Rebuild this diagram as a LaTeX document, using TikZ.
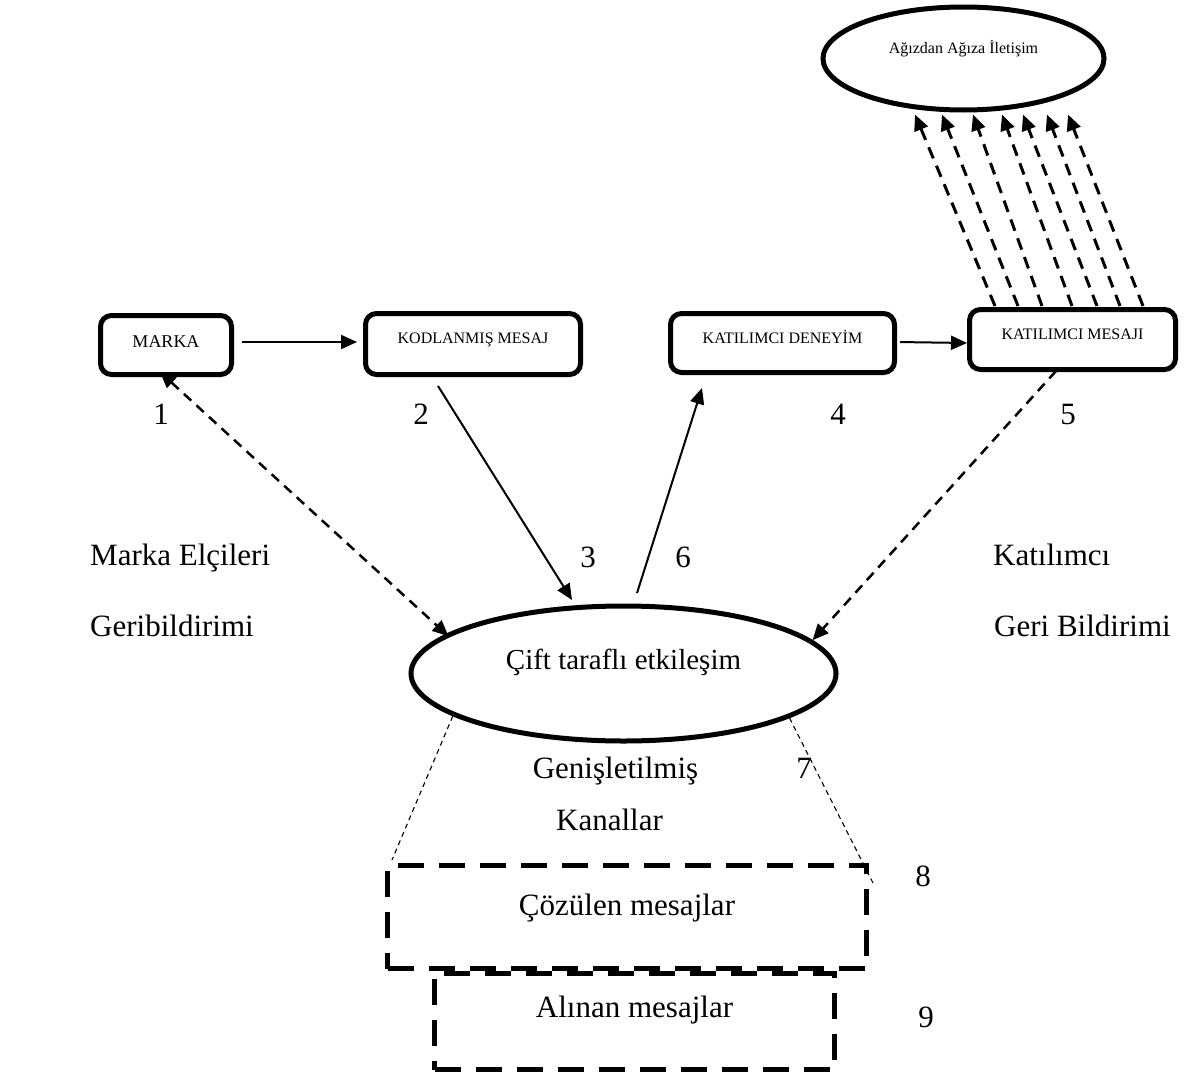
\documentclass[tikz,border=0pt]{standalone}
\usepackage{fontspec}
\setmainfont{Liberation Serif}
\usetikzlibrary{arrows.meta,shapes.geometric,calc}
\newcommand{\rtxt}[2]{\raisebox{#1pt}[0pt][0pt]{#2}}
\begin{document}
\begin{tikzpicture}[x=1pt,y=-1pt,
  >={Triangle[length=16pt,width=14pt]},
  rbox/.style={draw, line width=5pt, rounded corners=11pt, inner sep=0pt, font=\fontsize{16}{18}\selectfont},
  oval/.style={draw, ellipse, line width=5pt, inner sep=0pt},
  dbox/.style={draw, line width=5pt, dash pattern=on 26pt off 15pt, inner sep=0pt, font=\fontsize{31}{36}\selectfont},
  big/.style={font=\fontsize{31}{36}\selectfont, inner sep=0pt, anchor=base},
  solidarrow/.style={line width=2pt, ->},
  dasharrow/.style={line width=2.5pt, dash pattern=on 10pt off 7pt, ->},
  fanarrow/.style={line width=3pt, dash pattern=on 12pt off 8pt, ->},
  guide/.style={line width=1.1pt, dash pattern=on 5pt off 4pt}]
\fill[white] (0,0) rectangle (1190,1081);
\useasboundingbox (0,0) rectangle (1190,1081);

% boxes and ovals
\node[rbox, minimum width=131pt, minimum height=59pt, font=\fontsize{18}{20}\selectfont] (marka) at (166,345) {\rtxt{-2}{MARKA}};
\node[rbox, minimum width=215pt, minimum height=61pt] (kod) at (473,344) {\rtxt{1}{KODLANMIŞ MESAJ}};
\node[rbox, minimum width=224pt, minimum height=59pt] (den) at (782.5,343) {\rtxt{0}{KATILIMCI DENEYİM}};
\node[rbox, minimum width=206pt, minimum height=60pt] (km) at (1072.5,339.5) {\rtxt{0.5}{KATILIMCI MESAJI}};
\node[oval, minimum width=281pt, minimum height=103pt, font=\fontsize{16}{18}\selectfont] (wom) at (963.5,58.5) {\rtxt{5.5}{Ağızdan Ağıza İletişim}};
\node[oval, minimum width=425pt, minimum height=135pt, font=\fontsize{29}{34}\selectfont] (cell) at (623.5,673.5) {\rtxt{4.5}{Çift taraflı etkileşim}};
\node[dbox, minimum width=479pt, minimum height=103pt] (coz) at (627,917) {\rtxt{2}{Çözülen mesajlar}};
\node[dbox, minimum width=400pt, minimum height=96.5pt] (alin) at (634.5,1021.25) {\rtxt{4}{Alınan mesajlar}};

% text labels
\node[big, anchor=base west] (mel) at (90,565) {Marka Elçileri};
\node[big, anchor=base west] (geri) at (90,636) {Geribildirimi};
\node[big, anchor=base west] (kat) at (993,565) {Katılımcı};
\node[big, anchor=base west] (gb) at (994,636) {Geri Bildirimi};
\node[big] (gen) at (615.5,778) {Genişletilmiş};
\node[big] (kan) at (609.5,830) {Kanallar};
\node[big] (n1) at (161,424) {1};
\node[big] (n2) at (421,424) {2};
\node[big] (n4) at (838,424) {4};
\node[big] (n5) at (1068,424) {5};
\node[big] (n3) at (588,567) {3};
\node[big] (n6) at (683,567) {6};
\node[big] (n7) at (804,778) {7};
\node[big] (n8) at (923,886) {8};
\node[big] (n9) at (926,1027) {9};

% connectors
\draw[solidarrow, shorten <=8pt, shorten >=6pt] ([yshift=3pt]marka.east) -- ([yshift=3pt]marka.east -| kod.west);
\draw[solidarrow, shorten <=3pt] ([yshift=1pt]den.east) -- ([yshift=-3.5pt]km.west);
\draw[dasharrow, <->] ($(marka.south)+(-6,-5)$) -- ($(cell.168.75)+(5,1)$);
\draw[solidarrow] ($(kod.south)+(-35,9)$) -- ($(cell.north)+(-51.5,-3.5)$);
\draw[solidarrow] ($(cell.north)+(13.5,-10.5)$) -- ($(den.south)+(-80.5,13)$);
\draw[dasharrow] ($(km.south)+(-16.5,-1)$) -- (cell.10);
\foreach \b/\t in {995/915, 1018/942, 1042/973, 1072/1002, 1097/1023, 1120/1047, 1143/1068}
  \draw[fanarrow] ($(km.north west)+({\b-967},-1)$) -- ($(wom.south)+({\t-963.5},2)$);
\draw[guide] (cell.194.88) -- ($(coz.north west)+(7,-3)$);
\draw[guide] (cell.345.37) -- ($(coz.north east)+(4,20)$);
\end{tikzpicture}
\end{document}
